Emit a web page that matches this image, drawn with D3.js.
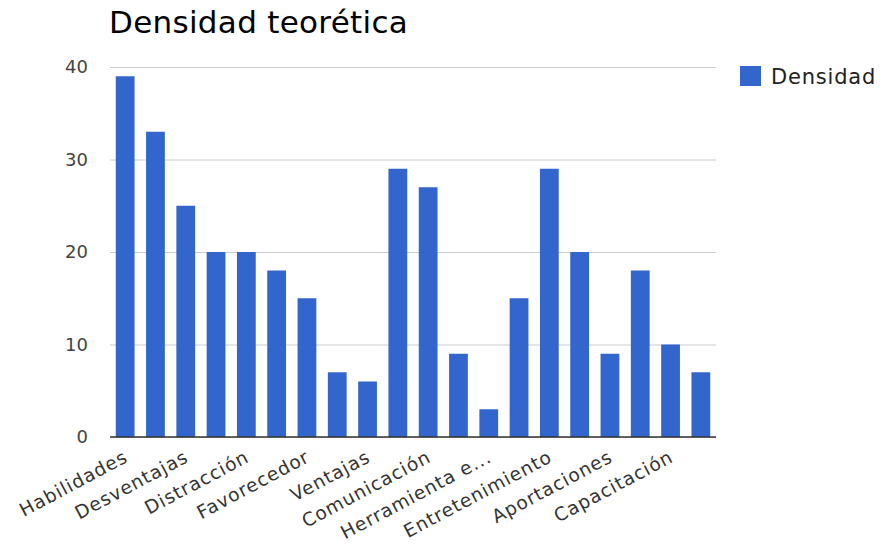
<!DOCTYPE html>
<html>
<head>
<meta charset="utf-8">
<script src="https://cdn.jsdelivr.net/npm/d3@7"></script>
<style>
  body { margin: 0; background: #fff; }
  svg { display: block; font-family: "DejaVu Sans", Verdana, sans-serif; }
</style>
</head>
<body>
<div id="chart"></div>
<script>
// only every other category label is visible in the picture
const categories = [
  "Habilidades", "", "Desventajas", "", "Distracción", "",
  "Favorecedor", "", "Ventajas", "", "Comunicación", "",
  "Herramienta e...", "", "Entretenimiento", "", "Aportaciones", "",
  "Capacitación", ""
];
const densidad = [39, 33, 25, 20, 20, 18, 15, 7, 6, 29, 27, 9, 3, 15, 29, 20, 9, 18, 10, 7];
const yTicks = [0, 10, 20, 30, 40];

const width = 883, height = 548;
const margin = { top: 67, right: 167, bottom: 111, left: 110 };
const innerW = width - margin.left - margin.right;
const innerH = height - margin.top - margin.bottom;

const svg = d3.select("#chart").append("svg")
  .attr("width", width)
  .attr("height", height);

//title
svg.append("text")
  .attr("x", 109)
  .attr("y", 33)
  .attr("font-size", 31)
  .attr("letter-spacing", 0.3)
  .attr("fill", "#000")
  .text("Densidad teorética");

const g = svg.append("g").attr("transform", `translate(${margin.left},${margin.top})`);

const x = d3.scaleBand()
  .domain(d3.range(densidad.length))
  .range([0, innerW])
  .paddingInner(0.38)
  .paddingOuter(0.19);

const y = d3.scaleLinear().domain([0, 40]).range([innerH, 0]);

//gridlines + y labels
const yAxis = g.append("g")
  .call(d3.axisLeft(y).tickValues(yTicks).tickSize(-innerW).tickPadding(22).tickFormat(d3.format("d")));
yAxis.select(".domain").remove();
yAxis.selectAll(".tick line").attr("stroke", "#cccccc");
yAxis.selectAll(".tick text")
  .attr("font-size", 18)
  .attr("fill", "#444")
  .attr("font-family", "DejaVu Sans, sans-serif");

//bars
g.selectAll(".bar")
  .data(densidad)
  .enter()
  .append("rect")
  .attr("class", "bar")
  .attr("x", (d, i) => x(i))
  .attr("y", d => y(d))
  .attr("width", x.bandwidth())
  .attr("height", d => innerH - y(d))
  .attr("fill", "#3366cc");

//baseline
g.append("line")
  .attr("x1", 0).attr("x2", innerW)
  .attr("y1", innerH).attr("y2", innerH)
  .attr("stroke", "#333").attr("stroke-width", 1.5);

//x labels, rotated
const labelled = categories.map((c, i) => ({ c, i })).filter(d => d.c !== "");
g.selectAll(".xlabel")
  .data(labelled)
  .enter()
  .append("text")
  .attr("class", "xlabel")
  .attr("transform", d => `translate(${x(d.i) + x.bandwidth() / 2 + 4},${innerH + 24}) rotate(-28)`)
  .attr("text-anchor", "end")
  .attr("font-size", 18.5)
  .attr("letter-spacing", 1)
  .attr("fill", "#333")
  .text(d => d.c);

//legend
const legend = svg.append("g").attr("transform", "translate(740,66)");
legend.append("rect").attr("width", 21).attr("height", 20).attr("fill", "#3366cc");
legend.append("text")
  .attr("x", 31).attr("y", 18)
  .attr("font-size", 21)
  .attr("letter-spacing", 0.8)
  .attr("fill", "#222")
  .text("Densidad");
</script>
</body>
</html>
